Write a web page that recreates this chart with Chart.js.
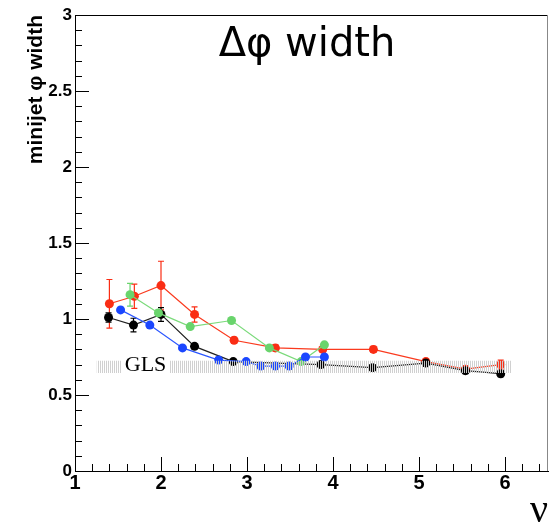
<!DOCTYPE html>
<html>
<head>
<meta charset="utf-8">
<script src="https://cdn.jsdelivr.net/npm/chart.js@4.4.1/dist/chart.umd.min.js"></script>
<style>
  html, body { margin: 0; padding: 0; background: #fff; }
  #wrap { width: 554px; height: 522px; }
</style>
</head>
<body>
<div id="wrap"><canvas id="chart"></canvas></div>
<script>
// values
const redX = [1.40, 1.69, 2.00, 2.39, 2.85, 3.33, 3.88, 4.47, 5.08, 5.54, 5.95]
const redY = [1.10, 1.15, 1.22, 1.03, 0.86, 0.81, 0.80, 0.80, 0.72, 0.67, 0.70]
const redErr = [0.16, 0.08, 0.16, 0.05, 0.02, 0.02, 0.02, 0.02, 0.02, 0.02, 0.03]

const greenX = [1.64, 1.97, 2.34, 2.82, 3.26, 3.63, 3.90]
const greenY = [1.16, 1.04, 0.95, 0.99, 0.81, 0.72, 0.83]
const greenErr = [0.075, 0.02, 0.01, 0.01, 0.01, 0.01, 0.01]

const blueX = [1.53, 1.87, 2.25, 2.67, 2.99, 3.16, 3.33, 3.49, 3.68, 3.90]
const blueY = [1.06, 0.96, 0.81, 0.73, 0.72, 0.69, 0.69, 0.69, 0.75, 0.75]
const blueErr = [0.01, 0.01, 0.01, 0.01, 0.01, 0.01, 0.01, 0.01, 0.01, 0.01]

const blackX = [1.39, 1.68, 2.00, 2.39, 2.84, 3.86, 4.46, 5.08, 5.54, 5.95]
const blackY = [1.01, 0.96, 1.03, 0.82, 0.72, 0.70, 0.68, 0.71, 0.66, 0.64]
const blackErr = [0.03, 0.045, 0.045, 0.015, 0.01, 0.02, 0.02, 0.02, 0.02, 0.02]

// GLS reference band
const glsX = [1.25, 6.08]
const glsHi = [0.725, 0.725]
const glsLo = [0.645, 0.645]

const xMin = 1, xMax = 6.5, xStep = 0.2
const yMin = 0, yMax = 3, yStep = 0.1

const SANS = "'Liberation Sans', Arial, sans-serif"
const WIDE = "'DejaVu Sans', Verdana, sans-serif"
const SERIF = "'Liberation Serif', 'Times New Roman', serif"

function points(xs, ys) {
    return xs.map((x, i) => ({x: x, y: ys[i]}))
}

function isMajorY(v) { return Math.abs(v * 2 - Math.round(v * 2)) < 1e-6 }
function isMajorX(v) { return Math.abs(v - Math.round(v)) < 1e-6 }

// striped fill for the GLS band
const stripe = document.createElement('canvas')
stripe.width = 2
stripe.height = 1
const sctx = stripe.getContext('2d')
sctx.fillStyle = 'rgba(205,205,205,0.95)'
sctx.fillRect(0, 0, 1, 1)
const stripePattern = sctx.createPattern(stripe, 'repeat')

function series(label, xs, ys, errs, color, lineColor, order) {
    return {
        label: label,
        data: points(xs, ys),
        errors: errs,
        showLine: true,
        borderColor: lineColor,
        borderWidth: 1.2,
        backgroundColor: color,
        pointBackgroundColor: color,
        pointBorderColor: color,
        pointRadius: 4.5,
        pointBorderWidth: 0,
        errColor: color,
        order: order,
        fill: false
    }
}

const errorBars = {
    id: 'errorBars',
    beforeDatasetDraw(chart, args) {
        const ds = chart.data.datasets[args.index]
        if (!ds.errors) return
        const meta = chart.getDatasetMeta(args.index)
        const y = chart.scales.y
        const ctx = chart.ctx
        ctx.save()
        ctx.strokeStyle = ds.errColor
        ctx.lineWidth = 1.2
        meta.data.forEach((pt, i) => {
            const e = ds.errors[i]
            const top = y.getPixelForValue(ds.data[i].y + e)
            const bot = y.getPixelForValue(ds.data[i].y - e)
            ctx.beginPath()
            ctx.moveTo(pt.x, top); ctx.lineTo(pt.x, bot)
            ctx.moveTo(pt.x - 3, top); ctx.lineTo(pt.x + 3, top)
            ctx.moveTo(pt.x - 3, bot); ctx.lineTo(pt.x + 3, bot)
            ctx.stroke()
        })
        ctx.restore()
    }
}

const frame = {
    id: 'frame',
    afterDraw(chart) {
        const {ctx, chartArea: a, scales: {x, y}} = chart
        ctx.save()
        ctx.strokeStyle = '#000'
        ctx.lineWidth = 1
        ctx.beginPath()
        x.ticks.forEach(t => {
            const px = Math.round(x.getPixelForValue(t.value)) + 0.5
            const len = isMajorX(t.value) ? 14 : 7
            ctx.moveTo(px, a.bottom); ctx.lineTo(px, a.bottom - len)
        })
        y.ticks.forEach(t => {
            const py = Math.round(y.getPixelForValue(t.value)) + 0.5
            const len = isMajorY(t.value) ? 14 : 7
            ctx.moveTo(a.left, py); ctx.lineTo(a.left + len, py)
        })
        ctx.moveTo(a.left, Math.round(a.top) + 0.5); ctx.lineTo(a.right, Math.round(a.top) + 0.5)
        ctx.stroke()
        ctx.strokeStyle = '#888'
        ctx.beginPath()
        ctx.moveTo(Math.round(a.right) - 0.5, a.top); ctx.lineTo(Math.round(a.right) - 0.5, a.bottom)
        ctx.stroke()

        // GLS label with white box over the band
        const gx = x.getPixelForValue(1.82)
        const gy = y.getPixelForValue((glsHi[0] + glsLo[0]) / 2)
        ctx.font = '22px ' + SERIF
        const w = ctx.measureText('GLS').width
        ctx.fillStyle = '#fff'
        ctx.fillRect(gx - w / 2 - 3, gy - 7, w + 6, 14)
        ctx.fillStyle = '#000'
        ctx.textAlign = 'center'
        ctx.textBaseline = 'alphabetic'
        ctx.fillText('GLS', gx, gy + 4)

        // plot title
        ctx.font = '40px ' + WIDE
        ctx.fillText('Δφ width', 307, 56)
        ctx.restore()
    }
}

new Chart(document.getElementById('chart'), {
    type: 'scatter',
    data: {
        datasets: [
            series('red', redX, redY, redErr, '#fa2d14', '#fa3a1e', 4),
            series('black', blackX, blackY, blackErr, '#000000', '#202020', 3),
            series('green', greenX, greenY, greenErr, '#69d46c', '#7ada7a', 2),
            series('blue', blueX, blueY, blueErr, '#1a46ff', '#2a55ff', 1),
            {
                label: 'GLS hi',
                data: points(glsX, glsHi),
                showLine: true,
                borderWidth: 0,
                pointRadius: 0,
                backgroundColor: stripePattern,
                fill: '+1',
                order: -1
            },
            {
                label: 'GLS lo',
                data: points(glsX, glsLo),
                showLine: true,
                borderWidth: 0,
                pointRadius: 0,
                fill: false,
                order: -1
            }
        ]
    },
    options: {
        responsive: true,
        maintainAspectRatio: false,
        animation: false,
        layout: { padding: { top: 15, right: 6, left: 0, bottom: 0 } },
        plugins: {
            legend: { display: false },
            tooltip: { enabled: false }
        },
        scales: {
            x: {
                type: 'linear',
                min: xMin,
                max: xMax,
                afterFit(scale) { scale.height = 51 },
                grid: { display: false, drawTicks: false },
                border: { display: true, color: '#000', width: 1 },
                ticks: {
                    stepSize: xStep,
                    includeBounds: false,
                    autoSkip: false,
                    maxRotation: 0,
                    padding: 0,
                    color: '#000',
                    font: { family: SANS, size: 20, weight: 'bold' },
                    callback: v => isMajorX(v) ? String(Math.round(v)) : ''
                },
                title: {
                    display: true,
                    text: 'ν',
                    align: 'end',
                    color: '#000',
                    padding: 0,
                    font: { family: SERIF, size: 40, lineHeight: 0.55 }
                }
            },
            y: {
                type: 'linear',
                min: yMin,
                max: yMax,
                afterFit(scale) { scale.width = 75 },
                grid: { display: false, drawTicks: false },
                border: { display: true, color: '#000', width: 1 },
                ticks: {
                    stepSize: yStep,
                    autoSkip: false,
                    padding: 3,
                    color: '#000',
                    font: { family: SANS, size: 17, weight: 'bold' },
                    callback: v => isMajorY(v) ? String(Math.round(v * 2) / 2) : ''
                },
                title: {
                    display: true,
                    text: 'minijet φ width',
                    align: 'end',
                    color: '#000',
                    padding: { top: 24, bottom: 0 },
                    font: { family: SANS, size: 21, weight: 'bold' }
                }
            }
        }
    },
    plugins: [errorBars, frame]
})
</script>
</body>
</html>
